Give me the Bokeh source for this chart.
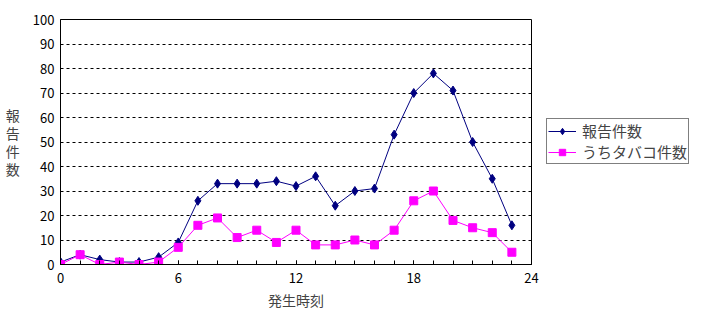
from bokeh.plotting import figure
from bokeh.models import FixedTicker, Legend, LegendItem, Range1d
from bokeh.embed import file_html
from bokeh.resources import INLINE

hours = list(range(24))
reports = [1, 4, 2, 1, 1, 3, 9, 26, 33, 33, 33, 34, 32, 36, 24, 30, 31, 53, 70, 78, 71, 50, 35, 16]
tobacco = [0, 4, 0, 1, 0, 1, 7, 16, 19, 11, 14, 9, 14, 8, 8, 10, 8, 14, 26, 30, 18, 15, 13, 5]
series_names = ["報告件数", "うちタバコ件数"]
x_ticks = [0, 6, 12, 18, 24]
y_ticks = list(range(0, 101, 10))
x_label = "発生時刻"
y_label = "報告件数"

FONT = "Noto Sans CJK JP"

p = figure(frame_width=471, frame_height=245, output_backend="svg", toolbar_location=None,
           x_range=Range1d(0, 24), y_range=Range1d(0, 100),
           min_border_left=60, min_border_right=171, min_border_top=19, min_border_bottom=60)
p.background_fill_color = "white"
p.border_fill_color = "white"
p.outline_line_color = "black"
p.outline_line_width = 1

p.xgrid.grid_line_color = None
p.ygrid.grid_line_color = "black"
p.ygrid.grid_line_dash = "3 3"
p.ygrid.grid_line_width = 1

p.xaxis.ticker = FixedTicker(ticks=x_ticks, minor_ticks=list(range(25)))
p.yaxis.ticker = FixedTicker(ticks=y_ticks)
for ax in (p.xaxis, p.yaxis):
    ax.axis_line_color = "black"
    ax.major_label_text_font = FONT
    ax.major_label_text_font_size = "13px"
    ax.major_label_text_color = "black"
    ax.axis_label_text_font = FONT
    ax.axis_label_text_font_style = "normal"
    ax.axis_label_text_font_size = "14px"
p.xaxis.major_tick_in = 4
p.xaxis.major_tick_out = 0
p.xaxis.minor_tick_in = 4
p.xaxis.minor_tick_out = 0
p.xaxis.minor_tick_line_color = "black"
p.xaxis.major_tick_line_color = "black"
p.xaxis.major_label_standoff = 8
p.xaxis.axis_label = x_label
p.xaxis.axis_label_standoff = 4
p.yaxis.major_tick_in = 0
p.yaxis.major_tick_out = 0
p.yaxis.minor_tick_line_color = None
p.yaxis.major_label_standoff = 6
p.yaxis.axis_label = "\n".join(y_label)
p.yaxis.axis_label_orientation = "horizontal"
p.yaxis.axis_label_standoff = 10
p.yaxis.axis_label_text_line_height = 0.9

l1 = p.line(hours, reports, line_color="#000080", line_width=1)
m1 = p.scatter(hours, reports, marker="diamond", size=9, fill_color="#000080", line_color="#000080")
l2 = p.line(hours, tobacco, line_color="#FF00FF", line_width=1)
m2 = p.scatter(hours, tobacco, marker="square", size=8, fill_color="#FF00FF", line_color="#FF00FF")

legend = Legend(items=[LegendItem(label=series_names[0], renderers=[l1, m1]),
                       LegendItem(label=series_names[1], renderers=[l2, m2])],
                location=(15, 100), border_line_color="black", border_line_width=1,
                label_text_font=FONT, label_text_font_size="15px",
                glyph_width=28, glyph_height=16, spacing=0, padding=1, margin=0,
                label_standoff=6, label_height=16, background_fill_alpha=1)
p.add_layout(legend, "right")

open("out.html", "w").write(file_html(p, INLINE))
